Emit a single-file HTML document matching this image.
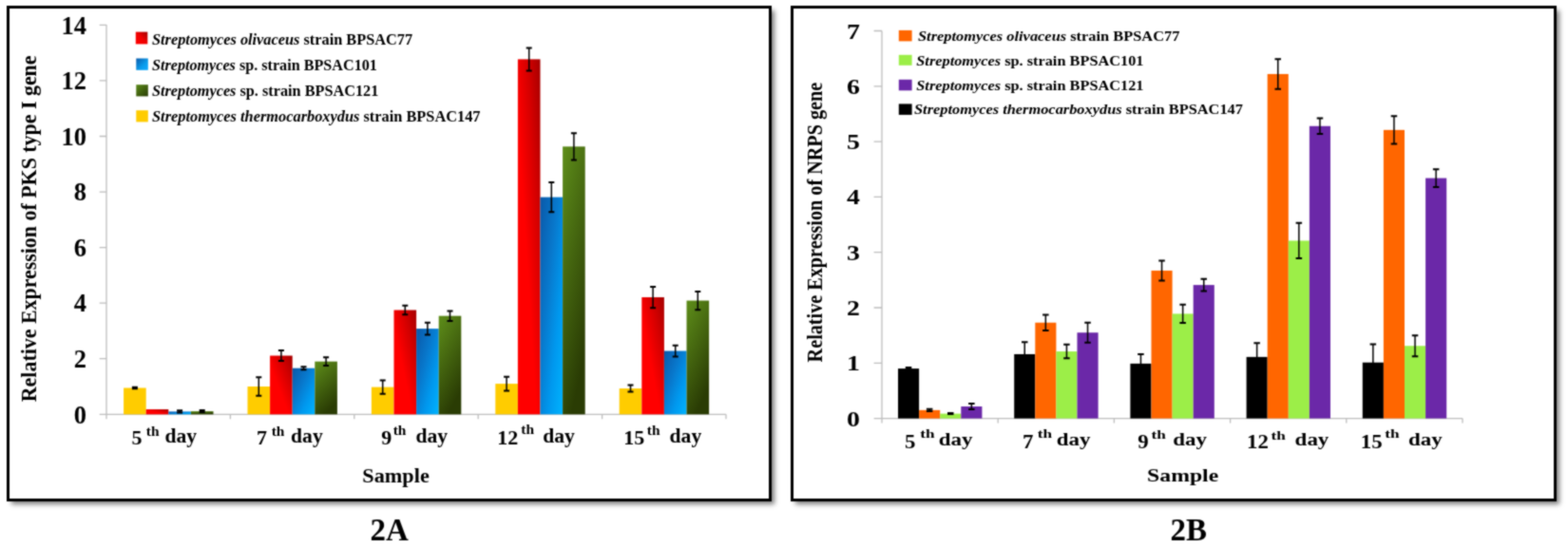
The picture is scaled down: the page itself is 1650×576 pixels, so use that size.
<!DOCTYPE html>
<html><head><meta charset="utf-8"><title>Figure 2</title>
<style>
html,body{margin:0;padding:0;background:#fff;}
body{width:1650px;height:576px;position:relative;overflow:hidden;}
.panel{position:absolute;border:3px solid #000;box-sizing:border-box;background:#fff;box-shadow:4px 4px 5px -1px rgba(0,0,0,0.5);}
svg{position:absolute;left:0;top:0;}
#wrap{position:absolute;left:0;top:0;width:1650px;height:576px;background:#fff;filter:url(#soft);}
svg text{font-family:'Liberation Serif', 'Times New Roman', serif;font-weight:bold;fill:#000;}
</style></head><body>
<svg width="0" height="0" style="position:absolute;left:0;top:0"><defs><filter id="soft" x="0" y="0" width="100%" height="100%" color-interpolation-filters="sRGB"><feConvolveMatrix order="3" kernelMatrix="1 2 1 2 8 2 1 2 1" divisor="20" edgeMode="duplicate"/></filter></defs></svg>
<div id="wrap">
<div class="panel" style="left:7px;top:6px;width:805px;height:521.5px"></div>
<div class="panel" style="left:832px;top:6px;width:805.5px;height:521.5px"></div>
<svg width="1650" height="576" viewBox="0 0 1650 576">
<defs>
<linearGradient id="gRed" x1="0" y1="1" x2="1" y2="0">
 <stop offset="0" stop-color="#FF0000"/><stop offset="0.42" stop-color="#FF0000"/><stop offset="0.72" stop-color="#D40000"/><stop offset="1" stop-color="#A60000"/>
</linearGradient>
<linearGradient id="gBlue" x1="0" y1="0" x2="1" y2="1">
 <stop offset="0" stop-color="#0A58A8"/><stop offset="0.38" stop-color="#0878CC"/><stop offset="0.68" stop-color="#0098EE"/><stop offset="1" stop-color="#00B4FF"/>
</linearGradient>
<linearGradient id="gGreen" x1="0" y1="0" x2="0.4" y2="1">
 <stop offset="0" stop-color="#5E8E1A"/><stop offset="1" stop-color="#2A3C04"/>
</linearGradient>
<linearGradient id="gRedL" x1="0" y1="1" x2="1" y2="0">
 <stop offset="0" stop-color="#FF0000"/><stop offset="0.5" stop-color="#F00000"/><stop offset="1" stop-color="#A00000"/>
</linearGradient>
<linearGradient id="gBlueL" x1="0" y1="0" x2="1" y2="1">
 <stop offset="0" stop-color="#0A5AAA"/><stop offset="0.6" stop-color="#0A9CEC"/><stop offset="1" stop-color="#10AAFF"/>
</linearGradient>
<linearGradient id="gGreenL" x1="0" y1="0" x2="1" y2="1">
 <stop offset="0" stop-color="#5A8A18"/><stop offset="1" stop-color="#2A3C06"/>
</linearGradient>
</defs>
<path d="M112.0 26.0V436.3M104.7 436.3H764.0M104.7 436.3H112.0M104.7 377.7H112.0M104.7 319.2H112.0M104.7 260.6H112.0M104.7 202.1H112.0M104.7 143.5H112.0M104.7 84.9H112.0M104.7 26.4H112.0M112.0 436.3V441.3M242.4 436.3V441.3M372.8 436.3V441.3M503.2 436.3V441.3M633.6 436.3V441.3M764.0 436.3V441.3" stroke="#BDBDBD" stroke-width="1.3" fill="none"/>
<path d="M928.0 32.5V440.6M919.6 440.6H1539.0M919.6 440.6H928.0M919.6 382.3H928.0M919.6 324.0H928.0M919.6 265.7H928.0M919.6 207.4H928.0M919.6 149.1H928.0M919.6 90.8H928.0M919.6 32.5H928.0M928.0 440.6V445.6M1050.2 440.6V445.6M1172.4 440.6V445.6M1294.6 440.6V445.6M1416.8 440.6V445.6M1539.0 440.6V445.6" stroke="#BDBDBD" stroke-width="1.3" fill="none"/>
<rect x="142.8" y="33.6" width="12.5" height="12.8" fill="url(#gRedL)"/>
<rect x="143.3" y="61.5" width="12.5" height="12.3" fill="url(#gBlueL)"/>
<rect x="143.3" y="89.2" width="12.5" height="12.2" fill="url(#gGreenL)"/>
<rect x="143.3" y="116.2" width="12.5" height="12.2" fill="#FFCC00"/>
<rect x="945.8" y="31.9" width="13.8" height="11.5" fill="#FF6600"/>
<rect x="945.8" y="57.8" width="13.8" height="11.0" fill="#9CEE48"/>
<rect x="945.8" y="83.8" width="13.8" height="11.5" fill="#6B28A8"/>
<rect x="945.8" y="109.4" width="13.8" height="11.5" fill="#000"/>
<rect x="130.10" y="408.48" width="23.60" height="27.82" fill="#FFCC00"/>
<rect x="153.70" y="431.03" width="23.60" height="5.27" fill="url(#gRed)"/>
<rect x="177.30" y="433.37" width="23.60" height="2.93" fill="url(#gBlue)"/>
<rect x="200.90" y="433.08" width="23.60" height="3.22" fill="url(#gGreen)"/>
<rect x="260.50" y="407.02" width="23.60" height="29.28" fill="#FFCC00"/>
<rect x="284.10" y="374.52" width="23.60" height="61.78" fill="url(#gRed)"/>
<rect x="307.70" y="387.70" width="23.60" height="48.60" fill="url(#gBlue)"/>
<rect x="331.30" y="380.67" width="23.60" height="55.63" fill="url(#gGreen)"/>
<rect x="390.90" y="407.61" width="23.60" height="28.69" fill="#FFCC00"/>
<rect x="414.50" y="326.50" width="23.60" height="109.80" fill="url(#gRed)"/>
<rect x="438.10" y="346.12" width="23.60" height="90.18" fill="url(#gBlue)"/>
<rect x="461.70" y="332.65" width="23.60" height="103.65" fill="url(#gGreen)"/>
<rect x="521.30" y="404.09" width="23.60" height="32.21" fill="#FFCC00"/>
<rect x="544.90" y="62.39" width="23.60" height="373.91" fill="url(#gRed)"/>
<rect x="568.50" y="207.62" width="23.60" height="228.68" fill="url(#gBlue)"/>
<rect x="592.10" y="154.33" width="23.60" height="281.97" fill="url(#gGreen)"/>
<rect x="651.70" y="409.07" width="23.60" height="27.23" fill="#FFCC00"/>
<rect x="675.30" y="313.03" width="23.60" height="123.27" fill="url(#gRed)"/>
<rect x="698.90" y="369.54" width="23.60" height="66.76" fill="url(#gBlue)"/>
<rect x="722.50" y="316.54" width="23.60" height="119.76" fill="url(#gGreen)"/>
<g stroke="#000" fill="none"><path d="M141.90 407.75V409.22" stroke-width="1.5"/>
<path d="M138.90 407.75H144.90M138.90 409.22H144.90" stroke-width="2.0"/>
<path d="M189.10 432.35V434.40" stroke-width="1.5"/>
<path d="M186.10 432.35H192.10M186.10 434.40H192.10" stroke-width="2.0"/>
<path d="M212.70 432.05V434.10" stroke-width="1.5"/>
<path d="M209.70 432.05H215.70M209.70 434.10H215.70" stroke-width="2.0"/>
<path d="M272.30 397.36V416.68" stroke-width="1.5"/>
<path d="M269.30 397.36H275.30M269.30 416.68H275.30" stroke-width="2.0"/>
<path d="M295.90 368.96V380.08" stroke-width="1.5"/>
<path d="M292.90 368.96H298.90M292.90 380.08H298.90" stroke-width="2.0"/>
<path d="M319.50 386.23V389.16" stroke-width="1.5"/>
<path d="M316.50 386.23H322.50M316.50 389.16H322.50" stroke-width="2.0"/>
<path d="M343.10 376.28V385.06" stroke-width="1.5"/>
<path d="M340.10 376.28H346.10M340.10 385.06H346.10" stroke-width="2.0"/>
<path d="M402.70 400.58V414.63" stroke-width="1.5"/>
<path d="M399.70 400.58H405.70M399.70 414.63H405.70" stroke-width="2.0"/>
<path d="M426.30 321.82V331.18" stroke-width="1.5"/>
<path d="M423.30 321.82H429.30M423.30 331.18H429.30" stroke-width="2.0"/>
<path d="M449.90 339.68V352.56" stroke-width="1.5"/>
<path d="M446.90 339.68H452.90M446.90 352.56H452.90" stroke-width="2.0"/>
<path d="M473.50 327.38V337.92" stroke-width="1.5"/>
<path d="M470.50 327.38H476.50M470.50 337.92H476.50" stroke-width="2.0"/>
<path d="M533.10 396.77V411.41" stroke-width="1.5"/>
<path d="M530.10 396.77H536.10M530.10 411.41H536.10" stroke-width="2.0"/>
<path d="M556.70 50.39V74.40" stroke-width="1.5"/>
<path d="M553.70 50.39H559.70M553.70 74.40H559.70" stroke-width="2.0"/>
<path d="M580.30 192.10V223.14" stroke-width="1.5"/>
<path d="M577.30 192.10H583.30M577.30 223.14H583.30" stroke-width="2.0"/>
<path d="M603.90 140.28V168.39" stroke-width="1.5"/>
<path d="M600.90 140.28H606.90M600.90 168.39H606.90" stroke-width="2.0"/>
<path d="M663.50 405.56V412.58" stroke-width="1.5"/>
<path d="M660.50 405.56H666.50M660.50 412.58H666.50" stroke-width="2.0"/>
<path d="M687.10 301.90V324.16" stroke-width="1.5"/>
<path d="M684.10 301.90H690.10M684.10 324.16H690.10" stroke-width="2.0"/>
<path d="M710.70 363.69V375.40" stroke-width="1.5"/>
<path d="M707.70 363.69H713.70M707.70 375.40H713.70" stroke-width="2.0"/>
<path d="M734.30 306.88V326.21" stroke-width="1.5"/>
<path d="M731.30 306.88H737.30M731.30 326.21H737.30" stroke-width="2.0"/></g>
<rect x="945.00" y="388.13" width="22.10" height="52.47" fill="#000000"/>
<rect x="967.10" y="431.86" width="22.10" height="8.75" fill="#FF6600"/>
<rect x="989.20" y="435.59" width="22.10" height="5.01" fill="#9CEE48"/>
<rect x="1011.30" y="428.01" width="22.10" height="12.59" fill="#6B28A8"/>
<rect x="1067.20" y="372.97" width="22.10" height="67.63" fill="#000000"/>
<rect x="1089.30" y="339.74" width="22.10" height="100.86" fill="#FF6600"/>
<rect x="1111.40" y="370.06" width="22.10" height="70.54" fill="#9CEE48"/>
<rect x="1133.50" y="350.24" width="22.10" height="90.37" fill="#6B28A8"/>
<rect x="1189.40" y="382.88" width="22.10" height="57.72" fill="#000000"/>
<rect x="1211.50" y="284.94" width="22.10" height="155.66" fill="#FF6600"/>
<rect x="1233.60" y="330.41" width="22.10" height="110.19" fill="#9CEE48"/>
<rect x="1255.70" y="300.10" width="22.10" height="140.50" fill="#6B28A8"/>
<rect x="1311.60" y="375.89" width="22.10" height="64.71" fill="#000000"/>
<rect x="1333.70" y="77.97" width="22.10" height="362.63" fill="#FF6600"/>
<rect x="1355.80" y="253.46" width="22.10" height="187.14" fill="#9CEE48"/>
<rect x="1377.90" y="132.78" width="22.10" height="307.82" fill="#6B28A8"/>
<rect x="1433.80" y="381.72" width="22.10" height="58.88" fill="#000000"/>
<rect x="1455.90" y="136.86" width="22.10" height="303.74" fill="#FF6600"/>
<rect x="1478.00" y="364.23" width="22.10" height="76.37" fill="#9CEE48"/>
<rect x="1500.10" y="187.58" width="22.10" height="253.02" fill="#6B28A8"/>
<g stroke="#000" fill="none"><path d="M956.05 386.96V389.30" stroke-width="1.5"/>
<path d="M952.80 386.96H959.30M952.80 389.30H959.30" stroke-width="2.0"/>
<path d="M978.15 430.81V432.90" stroke-width="1.5"/>
<path d="M974.90 430.81H981.40M974.90 432.90H981.40" stroke-width="2.0"/>
<path d="M1000.25 435.12V436.05" stroke-width="1.5"/>
<path d="M997.00 435.12H1003.50M997.00 436.05H1003.50" stroke-width="2.0"/>
<path d="M1022.35 425.09V430.92" stroke-width="1.5"/>
<path d="M1019.10 425.09H1025.60M1019.10 430.92H1025.60" stroke-width="2.0"/>
<path d="M1078.25 360.15V385.80" stroke-width="1.5"/>
<path d="M1075.00 360.15H1081.50M1075.00 385.80H1081.50" stroke-width="2.0"/>
<path d="M1100.35 331.58V347.90" stroke-width="1.5"/>
<path d="M1097.10 331.58H1103.60M1097.10 347.90H1103.60" stroke-width="2.0"/>
<path d="M1122.45 362.77V377.34" stroke-width="1.5"/>
<path d="M1119.20 362.77H1125.70M1119.20 377.34H1125.70" stroke-width="2.0"/>
<path d="M1144.55 339.74V360.73" stroke-width="1.5"/>
<path d="M1141.30 339.74H1147.80M1141.30 360.73H1147.80" stroke-width="2.0"/>
<path d="M1200.45 372.97V392.79" stroke-width="1.5"/>
<path d="M1197.20 372.97H1203.70M1197.20 392.79H1203.70" stroke-width="2.0"/>
<path d="M1222.55 274.45V295.43" stroke-width="1.5"/>
<path d="M1219.30 274.45H1225.80M1219.30 295.43H1225.80" stroke-width="2.0"/>
<path d="M1244.65 320.79V340.03" stroke-width="1.5"/>
<path d="M1241.40 320.79H1247.90M1241.40 340.03H1247.90" stroke-width="2.0"/>
<path d="M1266.75 293.68V306.51" stroke-width="1.5"/>
<path d="M1263.50 293.68H1270.00M1263.50 306.51H1270.00" stroke-width="2.0"/>
<path d="M1322.65 361.31V390.46" stroke-width="1.5"/>
<path d="M1319.40 361.31H1325.90M1319.40 390.46H1325.90" stroke-width="2.0"/>
<path d="M1344.75 62.23V93.72" stroke-width="1.5"/>
<path d="M1341.50 62.23H1348.00M1341.50 93.72H1348.00" stroke-width="2.0"/>
<path d="M1366.85 234.80V272.11" stroke-width="1.5"/>
<path d="M1363.60 234.80H1370.10M1363.60 272.11H1370.10" stroke-width="2.0"/>
<path d="M1388.95 124.61V140.94" stroke-width="1.5"/>
<path d="M1385.70 124.61H1392.20M1385.70 140.94H1392.20" stroke-width="2.0"/>
<path d="M1444.85 362.48V400.96" stroke-width="1.5"/>
<path d="M1441.60 362.48H1448.10M1441.60 400.96H1448.10" stroke-width="2.0"/>
<path d="M1466.95 122.28V151.43" stroke-width="1.5"/>
<path d="M1463.70 122.28H1470.20M1463.70 151.43H1470.20" stroke-width="2.0"/>
<path d="M1489.05 353.15V375.30" stroke-width="1.5"/>
<path d="M1485.80 353.15H1492.30M1485.80 375.30H1492.30" stroke-width="2.0"/>
<path d="M1511.15 178.25V196.91" stroke-width="1.5"/>
<path d="M1507.90 178.25H1514.40M1507.90 196.91H1514.40" stroke-width="2.0"/></g>
<text transform="translate(91.00,445.60)" font-size="26.5" text-anchor="end">0</text>
<text transform="translate(91.00,387.04)" font-size="26.5" text-anchor="end">2</text>
<text transform="translate(91.00,328.48)" font-size="26.5" text-anchor="end">4</text>
<text transform="translate(91.00,269.92)" font-size="26.5" text-anchor="end">6</text>
<text transform="translate(91.00,211.36)" font-size="26.5" text-anchor="end">8</text>
<text transform="translate(91.00,152.80)" font-size="26.5" text-anchor="end">10</text>
<text transform="translate(91.00,94.24)" font-size="26.5" text-anchor="end">12</text>
<text transform="translate(91.00,35.68)" font-size="26.5" text-anchor="end">14</text>
<text transform="translate(905.00,448.60) scale(1.0700,0.8800)" font-size="26" text-anchor="end">0</text>
<text transform="translate(905.00,390.30) scale(1.0700,0.8800)" font-size="26" text-anchor="end">1</text>
<text transform="translate(905.00,332.00) scale(1.0700,0.8800)" font-size="26" text-anchor="end">2</text>
<text transform="translate(905.00,273.70) scale(1.0700,0.8800)" font-size="26" text-anchor="end">3</text>
<text transform="translate(905.00,215.40) scale(1.0700,0.8800)" font-size="26" text-anchor="end">4</text>
<text transform="translate(905.00,157.10) scale(1.0700,0.8800)" font-size="26" text-anchor="end">5</text>
<text transform="translate(905.00,98.80) scale(1.0700,0.8800)" font-size="26" text-anchor="end">6</text>
<text transform="translate(905.00,40.50) scale(1.0700,0.8800)" font-size="26" text-anchor="end">7</text>
<text transform="translate(38.00,423.20) rotate(-90) scale(0.9700,1.0000)" font-size="22.6">Relative Expression of PKS type I gene</text>
<text transform="translate(865.40,381.40) rotate(-90) scale(0.8940,1.0000)" font-size="22.6">Relative Expression of NRPS gene</text>
<text transform="translate(160.00,46.90) scale(0.9600,1.0000)" font-size="17"><tspan font-style="italic">Streptomyces olivaceus</tspan> strain BPSAC77</text>
<text transform="translate(160.00,73.90) scale(0.9500,1.0000)" font-size="17"><tspan font-style="italic">Streptomyces</tspan> sp. strain BPSAC101</text>
<text transform="translate(160.00,101.30) scale(0.9560,1.0000)" font-size="17"><tspan font-style="italic">Streptomyces</tspan> sp. strain BPSAC121</text>
<text transform="translate(160.00,127.70) scale(0.9620,1.0000)" font-size="17"><tspan font-style="italic">Streptomyces thermocarboxydus</tspan> strain BPSAC147</text>
<text transform="translate(966.00,43.00) scale(0.9646,0.9200)" font-size="17"><tspan font-style="italic">Streptomyces olivaceus</tspan> strain BPSAC77</text>
<text transform="translate(964.30,68.60) scale(0.9600,0.9200)" font-size="17"><tspan font-style="italic">Streptomyces</tspan> sp. strain BPSAC101</text>
<text transform="translate(964.30,94.90) scale(0.9600,0.9200)" font-size="17"><tspan font-style="italic">Streptomyces</tspan> sp. strain BPSAC121</text>
<text transform="translate(962.00,120.40) scale(0.9636,0.9200)" font-size="17"><tspan font-style="italic">Streptomyces thermocarboxydus</tspan> strain BPSAC147</text>
<text transform="translate(138.40,468.00)" font-size="22">5</text>
<text transform="translate(153.80,458.80) scale(1.0300,1.0000)" font-size="15">th</text>
<text transform="translate(173.40,466.20) scale(1.0800,1.0000)" font-size="20">day</text>
<text transform="translate(270.00,468.00)" font-size="22">7</text>
<text transform="translate(285.70,458.80) scale(1.0300,1.0000)" font-size="15">th</text>
<text transform="translate(306.10,466.20) scale(1.0800,1.0000)" font-size="20">day</text>
<text transform="translate(401.30,468.00)" font-size="22">9</text>
<text transform="translate(413.70,457.80) scale(1.0300,1.0000)" font-size="15">th</text>
<text transform="translate(437.50,466.20) scale(1.0800,1.0000)" font-size="20">day</text>
<text transform="translate(523.20,468.00)" font-size="22">12</text>
<text transform="translate(548.30,456.90) scale(1.0300,1.0000)" font-size="15">th</text>
<text transform="translate(571.20,466.20) scale(1.0800,1.0000)" font-size="20">day</text>
<text transform="translate(656.30,468.00)" font-size="22">15</text>
<text transform="translate(680.80,457.80) scale(1.0300,1.0000)" font-size="15">th</text>
<text transform="translate(704.60,466.20) scale(1.0800,1.0000)" font-size="20">day</text>
<text transform="translate(952.10,472.00) scale(1.0400,0.9200)" font-size="22">5</text>
<text transform="translate(968.20,460.90) scale(1.1500,0.9000)" font-size="15">th</text>
<text transform="translate(987.80,469.20) scale(1.1500,0.9200)" font-size="20">day</text>
<text transform="translate(1076.00,472.00) scale(1.0400,0.9200)" font-size="22">7</text>
<text transform="translate(1091.80,461.00) scale(1.1500,0.9000)" font-size="15">th</text>
<text transform="translate(1111.80,469.20) scale(1.1500,0.9200)" font-size="20">day</text>
<text transform="translate(1197.30,472.00) scale(1.0400,0.9200)" font-size="22">9</text>
<text transform="translate(1211.40,461.50) scale(1.1500,0.9000)" font-size="15">th</text>
<text transform="translate(1234.30,469.20) scale(1.1500,0.9200)" font-size="20">day</text>
<text transform="translate(1312.10,472.00) scale(1.0400,0.9200)" font-size="22">12</text>
<text transform="translate(1337.50,463.00) scale(1.1500,0.9000)" font-size="15">th</text>
<text transform="translate(1362.60,469.20) scale(1.1500,0.9200)" font-size="20">day</text>
<text transform="translate(1431.70,472.00) scale(1.0400,0.9200)" font-size="22">15</text>
<text transform="translate(1457.30,460.80) scale(1.1500,0.9000)" font-size="15">th</text>
<text transform="translate(1482.00,469.20) scale(1.1500,0.9200)" font-size="20">day</text>
<text transform="translate(381.30,508.10) scale(1.0600,1.0000)" font-size="21">Sample</text>
<text transform="translate(1207.10,507.00) scale(1.1300,0.8800)" font-size="21">Sample</text>
<text transform="translate(389.40,569.00)" font-size="33">2A</text>
<text transform="translate(1231.40,569.10)" font-size="33">2B</text>
</svg>
</div>
</body></html>
